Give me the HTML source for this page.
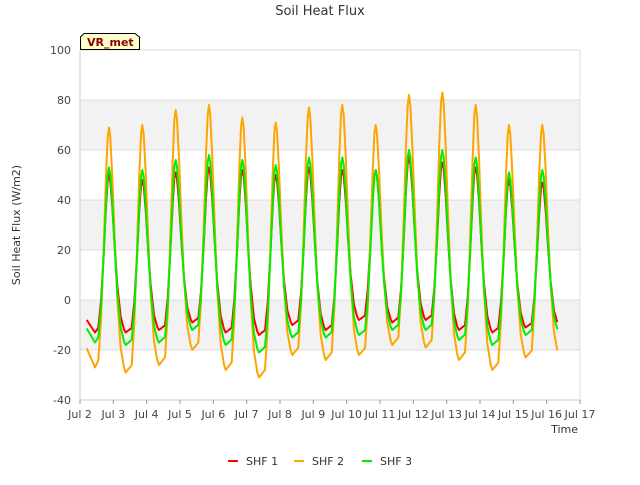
<!DOCTYPE html>
<html><head><meta charset="utf-8"><style>
body{margin:0;background:#fff;font-family:"Liberation Sans","DejaVu Sans",sans-serif}
</style></head><body>
<svg width="640" height="480" xmlns="http://www.w3.org/2000/svg" font-family="DejaVu Sans, Liberation Sans, sans-serif">
<g id="bg"></g><g id="grid"></g><g id="axes"></g><g id="lines"></g>
<text x="320" y="15" text-anchor="middle" font-size="13" fill="#333">Soil Heat Flux</text>
<text x="20" y="225" text-anchor="middle" font-size="11" fill="#333" transform="rotate(-90 20 225)">Soil Heat Flux (W/m2)</text>
<text x="578" y="433" text-anchor="end" font-size="11" fill="#333">Time</text>
<g><path d="M80.5 49.5 V37 L84 33.5 H135 L139.5 37 V49.5 Z" fill="#ffffcc" stroke="#000"/><text x="87" y="46" font-size="11" font-weight="bold" fill="#8b0000">VR_met</text></g>
<g id="legend"></g>
</svg>
<script>
const dayStarts=[2,3,4,5,6,7,8,9,10,11,12,13,14,15];
const shf1Peak=[50,48,51,53,52,50,53,52,52,57,55,53,48,47];
const shf1Min=[-13,-13,-12,-9,-13,-14,-10,-12,-8,-9,-8,-12,-13,-11];
const shf2Peak=[69,70,76,78,73,71,77,78,70,82,83,78,70,70];
const shf2Min=[-27,-29,-26,-20,-28,-31,-22,-24,-22,-18,-19,-24,-28,-23];
const shf3Peak=[53,52,56,58,56,54,57,57,52,60,60,57,51,52];
const shf3Min=[-17,-18,-17,-12,-18,-21,-15,-15,-14,-12,-12,-16,-18,-14];
const yTicks=[-40,-20,0,20,40,60,80,100];
const xTicks=["Jul 2","Jul 3","Jul 4","Jul 5","Jul 6","Jul 7","Jul 8","Jul 9","Jul 10","Jul 11","Jul 12","Jul 13","Jul 14","Jul 15","Jul 16","Jul 17"];
const NS="http://www.w3.org/2000/svg";
const L=80,R=580,T=50,B=400;
const xs=d=>L+(d-2)*(R-L)/15;
const ys=v=>B-(v+40)*(B-T)/140;
function mk(tag,attrs,parent){const e=document.createElementNS(NS,tag);for(const k in attrs)e.setAttribute(k,attrs[k]);document.getElementById(parent).appendChild(e);return e;}
[[60,80],[20,40],[-20,0]].forEach(b=>{const r=mk('rect',{x:L,y:ys(b[1]),width:R-L,height:ys(b[0])-ys(b[1]),fill:'#f2f2f2'},'bg');

});
yTicks.forEach(v=>{const l=mk('line',{x1:L,x2:R,y1:ys(v),y2:ys(v),stroke:'#dcdcdc'},'grid');


const t=mk('text',{x:L-9,y:ys(v)+4,'text-anchor':'end','font-size':11,fill:'#444'},'axes');t.textContent=v;

});
mk('line',{x1:L,x2:L,y1:T,y2:B,stroke:'#ccc'},'axes');
mk('line',{x1:L,x2:R,y1:B,y2:B,stroke:'#ccc'},'axes');
mk('line',{x1:R,x2:R,y1:T,y2:B,stroke:'#dcdcdc'},'axes');
xTicks.forEach((s,i)=>{const x=xs(2+i);mk('line',{x1:x,x2:x,y1:B,y2:B+4,stroke:'#999'},'axes');
const t=mk('text',{x:x,y:B+18,'text-anchor':'middle','font-size':11,fill:'#444'},'axes');t.textContent=s;

});
const rise=[[-0.32,0.03],[-0.24,0.2],[-0.16,0.5],[-0.09,0.8],[-0.04,0.96],[0,1]];
const fall=[[0.04,0.96],[0.1,0.8],[0.17,0.55],[0.25,0.3],[0.35,0.1],[0.45,0.02]];
function series(pk,mn,col,name){
 let pts=[[2.2,mn[0]+(pk[0]-mn[0])*0.08],[2.45,mn[0]]];
 for(let i=0;i<dayStarts.length;i++){
  const p=dayStarts[i]+0.87, a=pk[i], m=mn[i], n=i+1<mn.length?mn[i+1]:mn[i]+1;
  rise.forEach(r=>pts.push([p+r[0],m+(a-m)*r[1]]));
  fall.forEach(f=>pts.push([p+f[0],n+(a-n)*f[1]]));
  if(i+1<mn.length){pts.push([p+0.5,n]);}
 }
 const d=pts.map((q,i)=>(i?'L':'M')+xs(q[0]).toFixed(1)+' '+ys(q[1]).toFixed(1)).join(' ');
 const e=mk('path',{d:d,fill:'none',stroke:col,'stroke-width':2,'stroke-linejoin':'round'},'lines');
 
 
}
series(shf1Peak,shf1Min,'#ff0000','shf1');
series(shf2Peak,shf2Min,'#ffa500','shf2');
series(shf3Peak,shf3Min,'#00ee00','shf3');
[['SHF 1','#ff0000',228],['SHF 2','#ffa500',294],['SHF 3','#00ee00',362]].forEach(l=>{
 const g=mk('g',{},'legend');
 
 
 const ln=document.createElementNS(NS,'line');ln.setAttribute('x1',l[2]);ln.setAttribute('x2',l[2]+10);ln.setAttribute('y1',461);ln.setAttribute('y2',461);ln.setAttribute('stroke',l[1]);ln.setAttribute('stroke-width',2);g.appendChild(ln);
 const t=document.createElementNS(NS,'text');t.setAttribute('x',l[2]+18);t.setAttribute('y',465);t.setAttribute('font-size',11);t.setAttribute('fill','#333');t.textContent=l[0];g.appendChild(t);
});
</script>
</body></html>
